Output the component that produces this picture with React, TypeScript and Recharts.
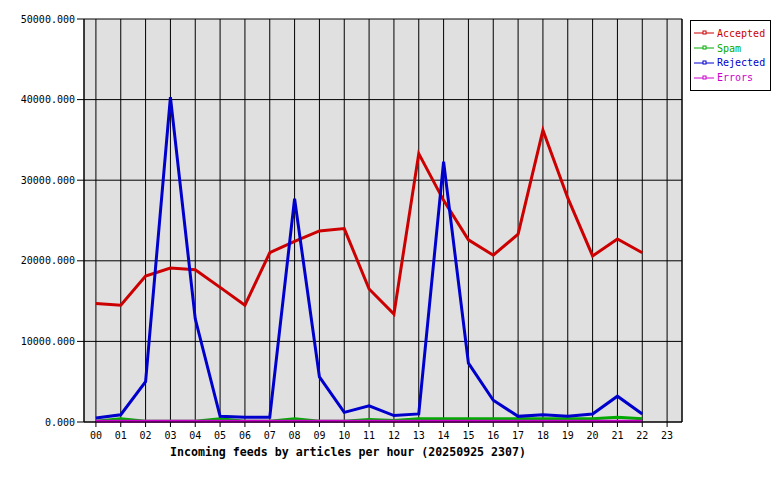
import { LineChart, Line, XAxis, YAxis, CartesianGrid, ReferenceLine } from 'recharts';

const hours = [0, 1, 2, 3, 4, 5, 6, 7, 8, 9, 10, 11, 12, 13, 14, 15, 16, 17, 18, 19, 20, 21, 22];
const hourTicks = [0, 1, 2, 3, 4, 5, 6, 7, 8, 9, 10, 11, 12, 13, 14, 15, 16, 17, 18, 19, 20, 21, 22, 23];
const yTicks = [0, 10000, 20000, 30000, 40000, 50000];

const accepted = [14700, 14500, 18100, 19100, 18900, 16700, 14500, 21000, 22400, 23700, 24000, 16500, 13400, 33300, 27500, 22600, 20700, 23300, 36200, 27800, 20600, 22700, 21000];
const spam = [100, 400, 100, 100, 100, 400, 100, 100, 400, 100, 100, 300, 200, 400, 400, 400, 400, 400, 400, 400, 400, 600, 400];
const rejected = [500, 900, 5000, 40300, 12800, 700, 600, 600, 27700, 5600, 1200, 2000, 800, 1000, 32300, 7300, 2700, 700, 900, 700, 1000, 3200, 1000];
const errors = [100, 100, 100, 100, 100, 100, 100, 100, 100, 100, 100, 100, 100, 100, 100, 100, 100, 100, 100, 100, 100, 100, 100];

const series = [
  { key: 'accepted', name: 'Accepted', color: '#cc0000' },
  { key: 'spam', name: 'Spam', color: '#00aa00' },
  { key: 'rejected', name: 'Rejected', color: '#0000cc' },
  { key: 'errors', name: 'Errors', color: '#cc00cc' },
];

const data = hours.map((h, i) => ({
  h,
  accepted: accepted[i],
  spam: spam[i],
  rejected: rejected[i],
  errors: errors[i],
}));

const mono = '"DejaVu Sans Mono", "Liberation Mono", monospace';

const LegendBox = () => (
  <div
    style={{
      position: 'absolute',
      left: 690,
      top: 20,
      width: 81,
      height: 71,
      border: '1px solid #000',
      boxSizing: 'border-box',
      background: '#fff',
      paddingTop: 5,
    }}
  >
    {series.map((s) => (
      <div key={s.key} style={{ display: 'flex', alignItems: 'center', height: 14.8 }}>
        <svg width={23} height={8} style={{ marginLeft: 3 }}>
          <line x1={0} y1={4} x2={20} y2={4} stroke={s.color} strokeWidth={1} />
          <rect x={9} y={2} width={3} height={3} fill="#fff" stroke={s.color} strokeWidth={1} />
        </svg>
        <span style={{ color: s.color, fontFamily: mono, fontSize: 10 }}>{s.name}</span>
      </div>
    ))}
  </div>
);

export default function App() {
  return (
    <div style={{ position: 'absolute', left: 0, top: 0, width: 780, height: 480, background: '#fff' }}>
      <LineChart width={780} height={480} data={data} margin={{ top: 19, right: 98, bottom: 28, left: 0 }}>
        <CartesianGrid stroke="#000" strokeWidth={1} fill="#e0e0e0" fillOpacity={1} />
        <XAxis
          dataKey="h"
          type="number"
          height={30}
          domain={[-0.48, 23.6]}
          ticks={hourTicks}
          interval={0}
          tickFormatter={(v: number) => String(v).padStart(2, '0')}
          stroke="#000"
          tickSize={5}
          tickMargin={5}
          tick={{ fill: '#000', fontFamily: mono, fontSize: 10 }}
        />
        <YAxis
          width={84}
          domain={[0, 50000]}
          ticks={yTicks}
          tickFormatter={(v: number) => v.toFixed(3)}
          stroke="#000"
          tickSize={7}
          tickMargin={2}
          tick={{ fill: '#000', fontFamily: mono, fontSize: 10 }}
        />
        <ReferenceLine x={23.6} stroke="#000" />
        {series.map((s) => (
          <Line
            key={s.key}
            type="linear"
            dataKey={s.key}
            name={s.name}
            stroke={s.color}
            strokeWidth={3}
            dot={false}
            isAnimationActive={false}
          />
        ))}
      </LineChart>
      <LegendBox />
      <div
        style={{
          position: 'absolute',
          left: 170,
          top: 445,
          fontFamily: mono,
          fontWeight: 'bold',
          fontSize: 11.6,
          color: '#000',
          whiteSpace: 'nowrap',
        }}
      >
        Incoming feeds by articles per hour (20250925 2307)
      </div>
    </div>
  );
}
